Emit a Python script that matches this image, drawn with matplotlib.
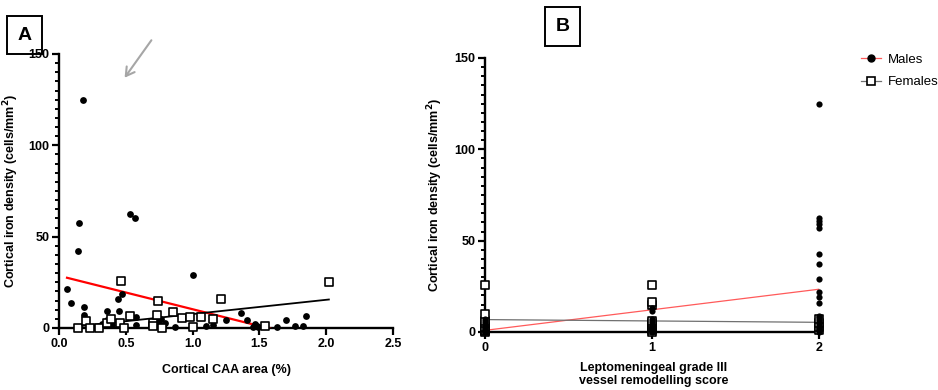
import matplotlib
matplotlib.use("Agg")
import matplotlib.pyplot as plt
from matplotlib.lines import Line2D
from matplotlib.patches import Rectangle
from matplotlib.ticker import MultipleLocator

plt.rcParams['font.family'] = ['Liberation Sans', 'DejaVu Sans']

# ---------------- Panel A data ----------------
a_male_x = [0.18, 0.153, 0.143, 0.53, 0.57, 1.0, 0.058, 0.09, 0.19, 0.19, 0.44, 0.47,
            0.36, 0.45, 0.55, 0.58, 0.575, 0.36, 0.28, 0.30, 0.32, 0.40, 0.725, 0.76,
            0.79, 0.78, 0.87, 1.10, 1.155, 1.25, 1.36, 1.41, 1.455, 1.47, 1.48, 1.49,
            1.635, 1.70, 1.77, 1.83, 1.85, 0.70, 0.75]
a_male_y = [124.6, 57.3, 42.3, 62.2, 60.0, 28.9, 21.6, 13.5, 11.5, 7.2, 16.0, 18.6,
            9.3, 9.3, 6.0, 6.0, 1.5, 4.5, 0.5, 1.0, 2.0, 1.5, 4.3, 5.0,
            3.0, 1.0, 0.5, 1.2, 1.5, 4.6, 8.4, 4.6, 0.3, 2.4, 1.0, 0.5,
            0.3, 4.2, 0.9, 0.9, 6.6, 1.0, 2.0]
a_female_x = [0.143, 0.20, 0.23, 0.30, 0.36, 0.39, 0.463, 0.46, 0.49, 0.53, 0.70,
              0.705, 0.73, 0.74, 0.77, 0.855, 0.92, 0.98, 1.0, 1.06, 1.155, 1.215,
              1.545, 2.02]
a_female_y = [0.2, 3.8, 0.2, 0.2, 2.7, 4.8, 25.6, 2.7, 0.0, 6.8, 2.7,
              0.9, 7.0, 14.6, 0.0, 9.0, 5.7, 6.2, 0.5, 6.2, 5.0, 16.0,
              0.9, 25.3]
# fitted lines (endpoints)
a_male_fit_x = [0.06, 1.85]
a_male_fit_y = [27.5, -5.3]
a_female_fit_x = [0.14, 2.02]
a_female_fit_y = [0.9, 15.6]

# ---------------- Panel B data ----------------
b_male_x = [0]*10 + [1]*12 + [2]*23
b_male_y = ([0, 0.5, 1, 1.5, 2, 3, 4, 5, 6, 7] +
            [0, 0.5, 1, 1.5, 2, 3, 4, 5, 6, 7, 11.5, 13] +
            [0, 0.5, 1, 1.5, 2, 3, 4, 5, 6, 7, 8, 9, 16, 19, 22, 29, 37.4, 42.5,
             57, 59, 61, 62.6, 124.8])
b_female_x = [0]*9 + [1]*10 + [2]*4
b_female_y = ([0, 0.5, 1, 2, 3, 5, 6, 10, 25.6] +
              [0, 1, 2, 3, 4, 5, 6, 15, 16.5, 25.6] +
              [1, 3, 5, 7])
b_male_fit_x = [0, 2]
b_male_fit_y = [0.9, 23.4]
b_female_fit_x = [0, 2]
b_female_fit_y = [6.8, 5.3]

x_ticks_a = [0.0, 0.5, 1.0, 1.5, 2.0, 2.5]
x_ticklabels_a = ['0.0', '0.5', '1.0', '1.5', '2.0', '2.5']
x_ticks_b = [0, 1, 2]
y_ticks = [0, 50, 100, 150]
legend_labels = ['Males', 'Females']

W, H = 938, 390
fig = plt.figure(figsize=(W/100, H/100), dpi=100)

def px_axes(l, r, t, b):
    return [l/W, 1 - b/H, (r - l)/W, (b - t)/H]

axA = fig.add_axes(px_axes(59, 393, 54, 328))
axB = fig.add_axes(px_axes(485, 822, 58, 332))

def style(ax):
    for s in ['top', 'right']:
        ax.spines[s].set_visible(False)
    for s in ['left', 'bottom']:
        ax.spines[s].set_linewidth(1.7)
        ax.spines[s].set_color('black')
    ax.set_ylim(0, 150)
    ax.set_yticks(y_ticks)
    ax.yaxis.set_minor_locator(MultipleLocator(5))
    ax.tick_params(axis='both', which='major', direction='out', length=5, width=1.6, pad=2,
                   labelsize=9)
    ax.tick_params(axis='y', which='minor', direction='out', length=3, width=1.4)
    for lab in ax.get_xticklabels() + ax.get_yticklabels():
        lab.set_fontweight('bold')

# Panel A
axA.set_xlim(0, 2.5)
axA.set_xticks(x_ticks_a)
axA.set_xticklabels(x_ticklabels_a)
style(axA)
axA.plot(a_male_fit_x, a_male_fit_y, color='#ff0000', lw=1.6, zorder=3)
axA.plot(a_female_fit_x, a_female_fit_y, color='black', lw=1.3, zorder=3)
axA.scatter(a_male_x, a_male_y, s=24, color='black', zorder=4, clip_on=False, linewidths=0)
axA.scatter(a_female_x, a_female_y, s=34, marker='s', facecolor='white', edgecolor='black',
            linewidths=1.2, zorder=5, clip_on=False)
axA.set_xlabel('Cortical CAA area (%)', fontsize=9, fontweight='bold')
axA.set_ylabel('Cortical iron density (cells/mm$\\mathbf{^2}$)', fontsize=9, fontweight='bold')
axA.xaxis.set_label_coords(0.5, -0.13)
axA.yaxis.set_label_coords(-0.115, 0.5)

# Panel B
axB.set_xlim(0, 2.02)
axB.set_xticks(x_ticks_b)
style(axB)
axB.plot(b_male_fit_x, b_male_fit_y, color='#ff5a5a', lw=0.9, zorder=3)
axB.plot(b_female_fit_x, b_female_fit_y, color='#707070', lw=0.9, zorder=3)
axB.scatter(b_female_x, b_female_y, s=28, marker='s', facecolor='white', edgecolor='black',
            linewidths=1.2, zorder=4, clip_on=False)
axB.scatter(b_male_x, b_male_y, s=20, color='black', zorder=5, clip_on=False, linewidths=0)
axB.set_xlabel('Leptomeningeal grade III\nvessel remodelling score', fontsize=9,
               fontweight='bold', va='top', linespacing=1.05)
axB.xaxis.set_label_coords(0.5, -0.11)
axB.set_ylabel('Cortical iron density (cells/mm$\\mathbf{^2}$)', fontsize=9, fontweight='bold')
axB.yaxis.set_label_coords(-0.12, 0.5)

handles = [Line2D([], [], color='#ff5a5a', lw=0.9, marker='o', markersize=5,
                  markerfacecolor='black', markeredgecolor='black'),
           Line2D([], [], color='#707070', lw=0.9, marker='s', markersize=5.5,
                  markerfacecolor='white', markeredgecolor='black', markeredgewidth=1.2)]
fig.legend(handles, legend_labels, loc='upper left', bbox_to_anchor=(856/W, 1 - 48/H),
           frameon=False, fontsize=9.5, handlelength=1.5, handletextpad=0.5,
           labelspacing=0.8, borderaxespad=0)

# Panel letter boxes
for (l, t, r, b, letter) in [(7, 16, 42, 54, 'A'), (545, 7, 580, 46, 'B')]:
    fig.patches.append(Rectangle((l/W, 1 - b/H), (r - l)/W, (b - t)/H,
                                 transform=fig.transFigure, fill=False,
                                 edgecolor='black', lw=1.4))
    fig.text((l + r)/2/W, 1 - (t + b)/2/H, letter, ha='center', va='center',
             fontsize=14, fontweight='bold')

# grey arrow
fig.add_artist(matplotlib.patches.FancyArrowPatch(
    (153/W, 1 - 38/H), (123/W, 1 - 80/H), transform=fig.transFigure,
    arrowstyle='->,head_length=6,head_width=3.5', color='#a6a6a6', lw=1.5))

fig.savefig('out.png', dpi=100)
